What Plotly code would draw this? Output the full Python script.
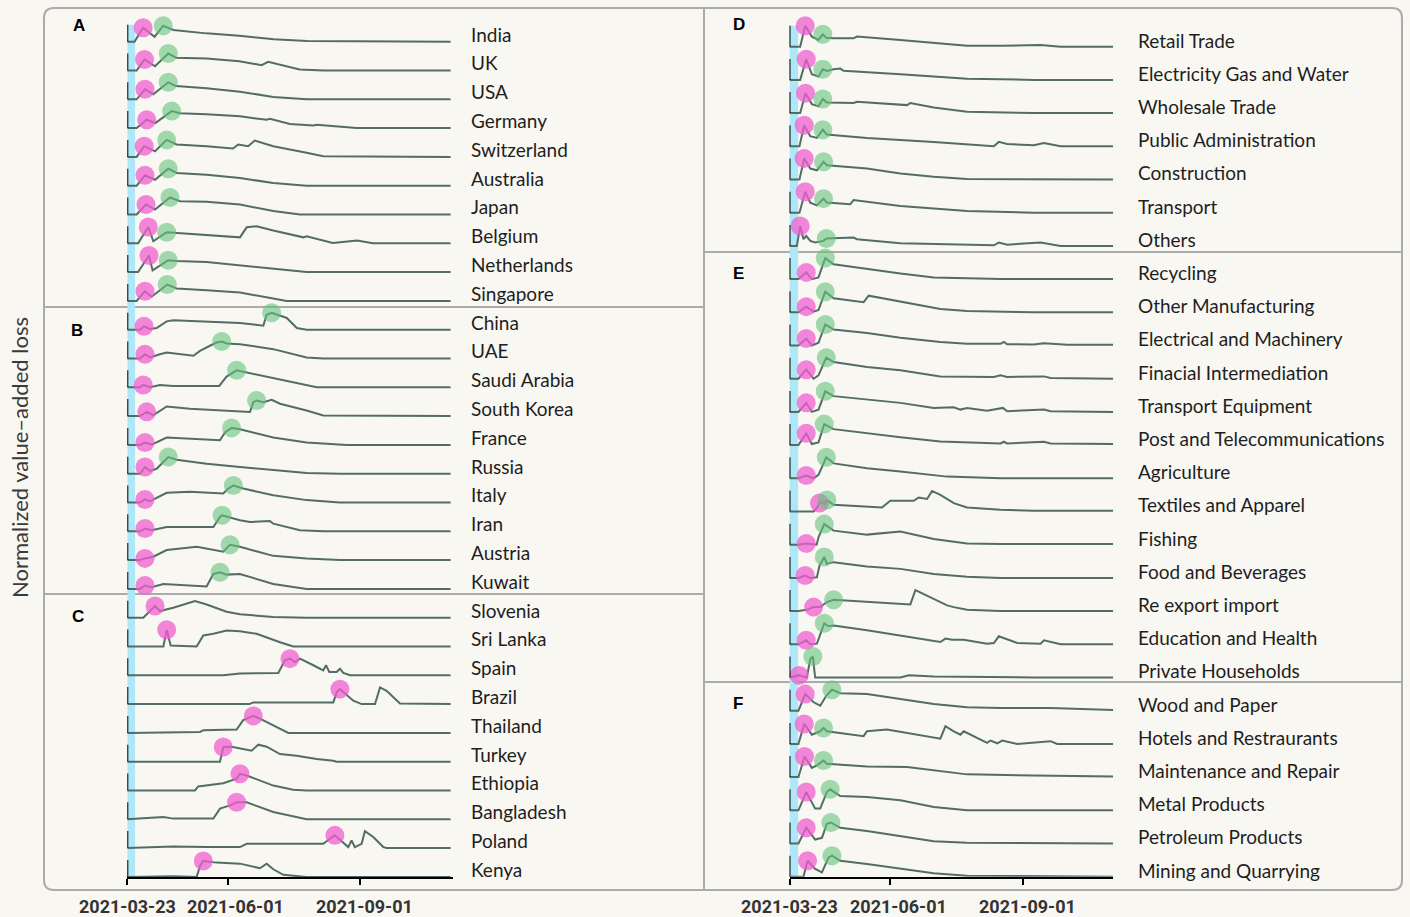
import pandas as pd
import plotly.graph_objects as go

START = "2021-03-23"
TICK_DATES = ["2021-03-23", "2021-06-01", "2021-09-01"]
TICK_SHIFT = [0, 8, 4]
PANEL_LETTERS = ["A", "B", "C", "D", "E", "F"]
Y_TITLE = "Normalized value–added loss"

# ---------------- Left panel: countries (days since 2021-03-23, normalized loss) ----------------
COUNTRIES = ["India", "UK", "USA", "Germany", "Switzerland", "Australia", "Japan", "Belgium",
             "Netherlands", "Singapore",
             "China", "UAE", "Saudi Arabia", "South Korea", "France", "Russia", "Italy", "Iran",
             "Austria", "Kuwait",
             "Slovenia", "Sri Lanka", "Spain", "Brazil", "Thailand", "Turkey", "Ethiopia",
             "Bangladesh", "Poland", "Kenya"]

COUNTRY_DAYS = [
    [0, 5, 11, 19, 25, 32, 55, 78, 102, 125, 225],
    [0, 6.5, 12, 19.3, 28.5, 34, 55, 78, 93.5, 98, 120, 137, 225],
    [0, 6.5, 12.3, 18.1, 28.5, 34, 55.2, 78.4, 101.6, 124.8, 225],
    [0, 6.5, 13.5, 19.5, 30.9, 36.7, 55.2, 78.4, 97, 99.3, 113.2, 129.5, 131.8, 159.6, 225],
    [0, 6.5, 11.8, 19.3, 27.4, 34.3, 55.2, 73.6, 77.2, 84.1, 88.7, 101.6, 124.8, 136.4, 225],
    [0, 6.5, 12.3, 19.3, 28.5, 34.3, 55.2, 78.4, 101.6, 124.8, 225],
    [0, 6.5, 13, 19.3, 29.7, 36.7, 55.2, 78.4, 101.6, 120.2, 225],
    [0, 7.5, 14.6, 18.1, 27.4, 55.2, 78.4, 83.1, 90, 101.6, 122.5, 124.8, 143, 160, 171, 225],
    [0, 7.5, 15.1, 17.6, 28.5, 34.3, 55.2, 78.4, 101.6, 124.8, 225],
    [0, 6.5, 12.3, 16.9, 27.8, 34.3, 55.2, 78.4, 101.6, 110.9, 225],
    [0, 8.8, 11.6, 15.8, 20.4, 27.4, 32, 55.2, 78.4, 94.7, 97, 100.5, 106.3, 111, 118, 124.8, 225],
    [0, 8.8, 12.3, 15.8, 22.7, 27.4, 46, 50.6, 57.5, 62.2, 65.7, 69.1, 78.4, 101.6, 124.8, 136.4, 225],
    [0, 8.8, 11.1, 15.8, 22.7, 32, 64, 69.1, 76.1, 80.7, 101.6, 124.8, 131.8, 225],
    [0, 8.8, 13.5, 18, 27.4, 43.6, 85.4, 87.7, 90, 94.7, 100.5, 106.3, 124.8, 136.4, 225],
    [0, 8.8, 12.3, 16.9, 27.4, 64.5, 68, 72.6, 78.4, 101.6, 124.8, 148, 152.7, 225],
    [0, 8.8, 12.3, 15.8, 20.4, 26.2, 28.5, 34.3, 55.2, 78.4, 101.6, 124.8, 148, 225],
    [0, 8.8, 12.3, 15.8, 27.4, 43.6, 66.8, 70.3, 73.8, 80.7, 101.6, 124.8, 148, 225],
    [0, 8.8, 12.3, 16.9, 27.4, 59.9, 64.5, 66, 78.4, 85.4, 99.3, 101.6, 120.2, 136.4, 225],
    [0, 8.8, 12.3, 18.1, 27.4, 48.3, 66.8, 71.5, 78.4, 101.6, 124.8, 148, 225],
    [0, 8.8, 12.3, 16.9, 25.1, 55.2, 59.9, 64.5, 69.1, 78.4, 101.6, 124.8, 225],
    [0, 11.1, 19.3, 22.7, 32, 41.3, 47.1, 55.2, 69.1, 78.4, 101.6, 124.8, 225],
    [0, 25.1, 27.4, 30.2, 48.3, 52.9, 59.9, 69.1, 78.4, 90, 106.3, 115.5, 225],
    [0, 66.8, 78.4, 105.1, 109.7, 113.2, 116.7, 120.2, 129.5, 136.4, 138.3, 140.6, 145.7, 148, 150.3, 155, 225],
    [0, 85, 87.7, 101.6, 143.4, 145.7, 148, 157.3, 163.1, 172.4, 175.9, 180.5, 189.8, 225],
    [0, 50.6, 53, 76.1, 80.7, 87.7, 92.3, 101.6, 112.1, 225],
    [0, 64.5, 66.8, 72.6, 86.5, 91.2, 97, 106.3, 117.9, 131.8, 143.4, 145.7, 225],
    [0, 47.1, 49.4, 66.8, 76.1, 78.4, 83.1, 101.6, 115.5, 124.8, 225],
    [0, 25.1, 32, 59.9, 64.5, 71.5, 76.1, 83.1, 101.6, 124.8, 225],
    [0, 32, 55.2, 78.4, 83.1, 136.4, 141, 144.5, 148, 153.8, 156.1, 158.4, 163.1, 165.4, 171.2, 178.2, 180.5, 225],
    [0, 32, 48.3, 50.6, 52.9, 62.2, 78.4, 92.3, 97, 101.6, 108.6, 120.2, 124.8, 225],
]
COUNTRY_VALS = [
    [0, 0, 0.82, 0.29, 0.94, 0.69, 0.49, 0.35, 0.14, 0.04, 0],
    [0, 0, 0.65, 0.25, 1.0, 0.75, 0.71, 0.55, 0.31, 0.51, 0.06, 0, 0],
    [0, 0, 0.59, 0.29, 1.0, 0.78, 0.65, 0.45, 0.14, 0, 0],
    [0, 0, 0.49, 0.29, 1.0, 0.88, 0.82, 0.69, 0.49, 0.55, 0.24, 0.16, 0.2, 0, 0],
    [0, 0, 0.63, 0.33, 1.0, 0.73, 0.63, 0.49, 0.73, 0.63, 0.96, 0.63, 0.24, 0.04, 0],
    [0, 0, 0.61, 0.35, 1.0, 0.75, 0.65, 0.45, 0.16, 0, 0],
    [0, 0, 0.59, 0.29, 1.0, 0.78, 0.75, 0.59, 0.2, 0, 0],
    [0, 0, 0.96, 0.12, 0.65, 0.49, 0.35, 0.94, 1.0, 0.75, 0.35, 0.41, 0.02, 0.16, 0, 0],
    [0, 0, 0.98, 0.1, 0.7, 0.66, 0.59, 0.39, 0.2, 0, 0],
    [0, 0, 0.57, 0.24, 0.96, 0.73, 0.63, 0.49, 0.14, 0, 0],
    [0, 0, 0.2, 0.04, 0.1, 0.49, 0.55, 0.49, 0.39, 0.24, 0.88, 1.0, 0.82, 0.69, 0.1, 0, 0],
    [0, 0, 0.25, 0.06, 0.25, 0.35, 0.16, 0.45, 0.75, 0.94, 1.0, 0.88, 0.84, 0.55, 0.06, 0, 0],
    [0, 0, 0.14, 0, 0.14, 0.08, 0.08, 0.63, 1.0, 0.92, 0.53, 0.14, 0, 0],
    [0, 0, 0.25, 0.05, 0.57, 0.43, 0.24, 0.82, 0.92, 0.82, 0.96, 0.73, 0.33, 0.04, 0],
    [0, 0, 0.14, 0.02, 0.43, 0.27, 0.73, 1.0, 0.92, 0.43, 0.14, 0.04, 0, 0],
    [0, 0, 0.39, 0.16, 0.29, 0.82, 0.98, 0.82, 0.59, 0.39, 0.2, 0.04, 0, 0],
    [0, 0, 0.18, 0.08, 0.57, 0.63, 0.53, 0.82, 1.0, 0.82, 0.43, 0.14, 0, 0],
    [0, 0, 0.16, 0.06, 0.25, 0.25, 0.84, 0.94, 0.65, 0.55, 0.61, 0.45, 0.06, 0, 0],
    [0, 0, 0.1, 0.2, 0.59, 0.78, 0.49, 0.9, 0.78, 0.25, 0.1, 0, 0],
    [0, 0, 0.2, 0.1, 0.29, 0.14, 0.88, 0.98, 0.84, 0.88, 0.29, 0, 0],
    [0, 0, 0.69, 0.39, 0.59, 0.82, 0.98, 0.78, 0.35, 0.2, 0.04, 0, 0],
    [0, 0, 0.98, 0.06, 0, 0.65, 0.75, 0.94, 0.9, 0.75, 0.25, 0, 0],
    [0, 0, 0.1, 0.14, 0.88, 0.98, 0.78, 0.98, 0.59, 0.29, 0.59, 0.2, 0.2, 0.39, 0.14, 0, 0],
    [0, 0, 0.1, 0.1, 0.1, 0.69, 0.88, 0.2, 0, 0, 0.98, 0.78, 0.04, 0],
    [0, 0.06, 0.16, 0.2, 0.75, 1.0, 0.84, 0.45, 0, 0],
    [0, 0, 0.86, 0.88, 0.65, 1.0, 0.88, 0.45, 0.35, 0.16, 0.06, 0, 0],
    [0, 0, 0.24, 0.43, 0.69, 0.98, 0.88, 0.29, 0.04, 0, 0],
    [0, 0.14, 0.04, 0.04, 0.63, 0.82, 1.0, 1.0, 0.43, 0, 0],
    [0, 0.1, 0.06, 0.06, 0.25, 0.25, 0.55, 0.75, 0.49, 0.06, 0.45, 0.06, 0.25, 1.0, 0.65, 0.06, 0, 0],
    [0, 0.04, 0, 0.65, 0.94, 0.84, 0.78, 0.51, 0.78, 0.45, 0.12, 0.06, 0, 0],
]
COUNTRY_PINK_DAY = [11, 12, 12.3, 13.5, 11.8, 12.3, 13, 14.6, 15.1, 12.3,
                    11.6, 12.3, 11.1, 13.5, 12.3, 12.3, 12.3, 12.3, 12.3, 12.3,
                    19.3, 27.4, 113.2, 148, 87.7, 66.8, 78.4, 76.1, 144.5, 52.9]
COUNTRY_PINK_VAL = [0.82, 0.65, 0.59, 0.49, 0.63, 0.61, 0.59, 0.96, 0.98, 0.57,
                    0.2, 0.25, 0.14, 0.25, 0.14, 0.39, 0.18, 0.16, 0.1, 0.2,
                    0.69, 0.98, 0.98, 0.88, 1.0, 0.86, 0.98, 1.0, 0.75, 0.94]
COUNTRY_GREEN_DAY = [25, 28.5, 28.5, 30.9, 27.4, 28.5, 29.7, 27.4, 28.5, 27.8,
                     100.5, 65.7, 76.1, 90, 72.6, 28.5, 73.8, 66, 71.5, 64.5,
                     None, None, None, None, None, None, None, None, None, None]
COUNTRY_GREEN_VAL = [0.94, 1.0, 1.0, 1.0, 1.0, 1.0, 1.0, 0.65, 0.7, 0.96,
                     1.0, 1.0, 1.0, 0.92, 1.0, 0.98, 1.0, 0.94, 0.9, 0.98,
                     None, None, None, None, None, None, None, None, None, None]

# ---------------- Right panel: sectors ----------------
SECTORS = ["Retail Trade", "Electricity Gas and Water", "Wholesale Trade", "Public Administration",
           "Construction", "Transport", "Others",
           "Recycling", "Other Manufacturing", "Electrical and Machinery", "Finacial Intermediation",
           "Transport Equipment", "Post and Telecommunications", "Agriculture", "Textiles and Apparel",
           "Fishing", "Food and Beverages", "Re export import", "Education and Health",
           "Private Households",
           "Wood and Paper", "Hotels and Restraurants", "Maintenance and Repair", "Metal Products",
           "Petroleum Products", "Mining and Quarrying"]

SECTOR_DAYS = [
    [0, 7.4, 10.9, 15.5, 20.1, 23.1, 25.5, 30.6, 44.4, 46.8, 76.9, 123.1, 146.3, 174.1, 188, 224.3],
    [0, 7.4, 11.6, 15.5, 20.1, 23.1, 25.9, 30.6, 35.2, 37.5, 76.9, 123.1, 169.4, 224.3],
    [0, 7.4, 11.1, 15.5, 20.1, 23.1, 25.9, 44.4, 46.8, 81.5, 83.8, 100, 123.1, 146.3, 169.4, 224.3],
    [0, 6.9, 10.2, 14.4, 19, 23.1, 25.9, 53.7, 100, 141.7, 145.1, 150.9, 169.4, 176.4, 188, 224.3],
    [0, 6.9, 10.2, 14.4, 19, 23.6, 25.9, 53.7, 76.9, 100, 123.1, 224.3],
    [0, 6.9, 10.9, 14.4, 19, 23.6, 25.9, 42.1, 44.4, 76.9, 123.1, 169.4, 224.3],
    [0, 5.1, 7.4, 9.7, 11.6, 14.4, 17.8, 23.6, 25.5, 44.4, 46.8, 76.9, 141.7, 145.1, 150.9, 174.1, 188, 224.3],
    [0, 6.2, 11.6, 15.5, 20.1, 24.8, 30.6, 53.7, 76.9, 100, 123.1, 146.3, 224.3],
    [0, 6.2, 11.6, 16.7, 20.1, 24.8, 30.6, 51.4, 54.9, 76.9, 104.6, 123.1, 146.3, 169.4, 224.3],
    [0, 6.2, 11.6, 15.5, 20.1, 24.8, 30.6, 53.7, 76.9, 104.6, 123.1, 146.3, 148.6, 150.9, 169.4, 176.4, 192.6, 224.3],
    [0, 6.2, 11.6, 16.7, 20.1, 25.5, 30.6, 53.7, 76.9, 104.6, 141.7, 146.3, 150.9, 176.4, 181, 224.3],
    [0, 6.2, 11.6, 15.5, 20.1, 24.8, 30.6, 53.7, 76.9, 100, 113.9, 118.5, 123.1, 137, 148, 150.9, 176.4, 181, 224.3],
    [0, 6.2, 11.6, 15.5, 20.1, 24.1, 30.6, 53.7, 76.9, 104.6, 123.1, 146.3, 148.6, 150.9, 176.4, 181, 224.3],
    [0, 6.2, 11.6, 16.7, 20.1, 25.5, 30.6, 53.7, 76.9, 109.3, 146.3, 224.3],
    [0, 16.7, 19, 20.8, 22.5, 24.1, 25.9, 30.6, 64.1, 69.9, 86.1, 89.6, 95.4, 98.8, 104.6, 113.9, 123.1, 146.3, 169.4, 224.3],
    [0, 6.2, 11.6, 18.8, 20.1, 24.1, 30.6, 53.7, 76.9, 100, 123.1, 146.3, 224.3],
    [0, 6.2, 10.9, 14.4, 19, 20.8, 24.1, 25.9, 30.6, 53.7, 76.9, 100, 123.1, 146.3, 224.3],
    [0, 6.2, 12, 16.7, 21.3, 25.9, 30.6, 53.7, 83.8, 87.3, 97.7, 100, 109.3, 113.9, 123.1, 146.3, 224.3],
    [0, 6.2, 11.6, 14.4, 19, 21.3, 24.1, 27.1, 30.6, 53.7, 76.9, 104.6, 108.1, 112.7, 120.8, 137, 141.7, 145.1, 157.9, 174.1, 176.4, 188, 224.3],
    [0, 2.8, 6.7, 12, 14.4, 16.2, 17.8, 76.9, 82.6, 100, 169.4, 224.3],
    [0, 6.2, 10.9, 16.7, 21.3, 25.5, 29.4, 35.2, 53.7, 76.9, 100, 123.1, 146.3, 181, 224.3],
    [0, 6.2, 10.2, 15.5, 21.3, 23.6, 25.9, 51.4, 53.7, 67.6, 104.6, 108.1, 113.9, 118.5, 120.8, 130.1, 137, 139.4, 144, 147.5, 157.9, 181, 185.6, 224.3],
    [0, 6.2, 10.4, 15.5, 19, 23.6, 25.9, 53.7, 81.5, 100, 123.1, 169.4, 224.3],
    [0, 6.2, 11.6, 17.8, 21.3, 25.9, 28.2, 35.2, 53.7, 76.9, 100, 123.1, 224.3],
    [0, 6.2, 11.6, 17.8, 22.5, 25.9, 28.7, 35.2, 53.7, 76.9, 100, 123.1, 224.3],
    [0, 9.7, 12.5, 17.8, 22.5, 27.1, 29.4, 35.2, 53.7, 76.9, 100, 123.1, 224.3],
]
SECTOR_VALS = [
    [0, 0, 1.0, 0.48, 0.32, 0.59, 0.43, 0.4, 0.4, 0.48, 0.32, 0.05, 0.05, 0.08, 0, 0],
    [0, 0, 0.98, 0.27, 0.16, 0.51, 0.43, 0.51, 0.54, 0.43, 0.27, 0.06, 0, 0],
    [0, 0, 0.95, 0.43, 0.32, 0.67, 0.51, 0.48, 0.54, 0.38, 0.48, 0.27, 0.06, 0.03, 0, 0],
    [0, 0, 1.0, 0.48, 0.4, 0.79, 0.56, 0.4, 0.21, 0, 0.21, 0.11, 0.05, 0.16, 0, 0],
    [0, 0, 1.0, 0.52, 0.44, 0.84, 0.68, 0.52, 0.29, 0.13, 0.02, 0],
    [0, 0, 1.0, 0.48, 0.35, 0.67, 0.48, 0.4, 0.6, 0.32, 0.08, 0, 0],
    [0, 0, 0.95, 0.32, 0.48, 0.24, 0.16, 0.24, 0.35, 0.4, 0.32, 0.13, 0.03, 0.16, 0.06, 0.16, 0, 0],
    [0, 0, 0.32, 0, 0.08, 1.0, 0.71, 0.48, 0.27, 0.08, 0.03, 0, 0],
    [0, 0, 0.27, 0.03, 0.11, 0.98, 0.67, 0.48, 0.79, 0.51, 0.16, 0.06, 0.03, 0, 0],
    [0, 0, 0.33, 0, 0.13, 1.0, 0.76, 0.6, 0.37, 0.17, 0.08, 0.08, 0.17, 0.06, 0.05, 0.11, 0.03, 0.03],
    [0, 0, 0.43, 0, 0.16, 1.0, 0.79, 0.56, 0.4, 0.11, 0.08, 0.16, 0.08, 0.11, 0.03, 0],
    [0, 0, 0.43, 0, 0.11, 0.98, 0.75, 0.59, 0.43, 0.19, 0.22, 0.11, 0.19, 0.06, 0.19, 0.03, 0.11, 0.03, 0],
    [0, 0, 0.56, 0.05, 0.13, 1.0, 0.76, 0.56, 0.37, 0.17, 0.13, 0.08, 0.16, 0.08, 0.16, 0.08, 0.05],
    [0, 0, 0.13, 0, 0.16, 1.0, 0.71, 0.48, 0.32, 0.08, 0, 0],
    [0, 0, 0.16, 0.4, 0.48, 0.35, 0.55, 0.32, 0.19, 0.51, 0.51, 0.67, 0.6, 0.98, 0.79, 0.4, 0.19, 0.08, 0.03, 0.03],
    [0, 0, 0.06, 0, 0.35, 0.98, 0.67, 0.48, 0.63, 0.27, 0.06, 0.03, 0.03],
    [0, 0, 0.11, 0, 0.03, 0.59, 1.0, 0.67, 0.75, 0.54, 0.43, 0.19, 0.06, 0, 0],
    [0, 0, 0.06, 0.19, 0.19, 0.43, 0.54, 0.43, 0.32, 1.0, 0.67, 0.59, 0.27, 0.19, 0.06, 0, 0],
    [0, 0, 0.19, 0, 0.03, 0.51, 1.0, 0.86, 0.9, 0.67, 0.43, 0.11, 0.27, 0.22, 0.22, 0.03, 0.06, 0.38, 0.06, 0.03, 0.19, 0, 0],
    [0, 0.05, 0.1, 0, 0.87, 1.0, 0, 0, 0.11, 0.05, 0, 0],
    [0, 0, 0.79, 0.4, 0.24, 0.71, 1.0, 0.83, 0.79, 0.56, 0.32, 0.16, 0.13, 0.13, 0.03],
    [0, 0, 0.95, 0.44, 0.6, 0.76, 0.6, 0.37, 0.6, 0.68, 0.25, 0.84, 0.6, 0.44, 0.6, 0.29, 0.05, 0.16, 0.03, 0.16, 0, 0.13, 0, 0],
    [0, 0, 0.98, 0.44, 0.56, 0.79, 0.63, 0.51, 0.48, 0.32, 0.13, 0.08, 0.03],
    [0, 0, 0.87, 0.08, 0.08, 0.87, 1.0, 0.68, 0.63, 0.48, 0.16, 0, 0],
    [0, 0, 0.75, 0.19, 0.27, 0.94, 1.0, 0.75, 0.59, 0.35, 0.11, 0.03, 0],
    [0, 0, 0.76, 0.37, 0.21, 0.92, 1.0, 0.76, 0.6, 0.37, 0.16, 0.05, 0],
]
SECTOR_PINK_DAY = [10.9, 11.6, 11.1, 10.2, 10.2, 10.9, 7.4,
                   11.6, 11.6, 11.6, 11.6, 11.6, 11.6, 11.6, 20.8, 11.6, 10.9, 16.7, 11.6, 6.7,
                   10.9, 10.2, 10.4, 11.6, 11.6, 12.5]
SECTOR_PINK_VAL = [1.0, 0.98, 0.95, 1.0, 1.0, 1.0, 0.95,
                   0.32, 0.27, 0.33, 0.43, 0.43, 0.56, 0.13, 0.4, 0.06, 0.11, 0.19, 0.19, 0.1,
                   0.79, 0.95, 0.98, 0.87, 0.75, 0.76]
SECTOR_GREEN_DAY = [23.1, 23.1, 23.1, 23.1, 23.6, 23.6, 25.5,
                    24.8, 24.8, 24.8, 25.5, 24.8, 24.1, 25.5, 25.9, 24.1, 24.1, 30.6, 24.1, 16.2,
                    29.4, 23.6, 23.6, 28.2, 28.7, 29.4]
SECTOR_GREEN_VAL = [0.59, 0.51, 0.67, 0.79, 0.84, 0.67, 0.35,
                    1.0, 0.98, 1.0, 1.0, 0.98, 1.0, 1.0, 0.55, 0.98, 1.0, 0.54, 1.0, 1.0,
                    1.0, 0.76, 0.79, 1.0, 1.0, 1.0]

# ---------------- styling ----------------
W, H = 1410, 917
BG = "#f9f7f2"
LINE = "#526d65"
PINK = "rgba(240,95,208,0.75)"
GREEN = "rgba(100,195,125,0.6)"
BAND = "#aee7f7"
BORDER = "#ababab"
LABEL_FONT = "Lato"

t0 = pd.Timestamp(START)


def to_date(d):
    return (t0 + pd.Timedelta(days=d)).strftime("%Y-%m-%d %H:%M:%S")


def px_x(p):
    return p / W


def px_y(p):
    return 1 - p / H


PANELS = [
    dict(names=COUNTRIES, days=COUNTRY_DAYS, vals=COUNTRY_VALS,
         pd_=COUNTRY_PINK_DAY, pv=COUNTRY_PINK_VAL, gd=COUNTRY_GREEN_DAY, gv=COUNTRY_GREEN_VAL,
         xa="x", ya="y", step=28.8, bottom=876.9, amp=17.0, xd=(127.3, 453.0), end=226.7,
         lx=469, ldy=7.7, band=5.4),
    dict(names=SECTORS, days=SECTOR_DAYS, vals=SECTOR_VALS,
         pd_=SECTOR_PINK_DAY, pv=SECTOR_PINK_VAL, gd=SECTOR_GREEN_DAY, gv=SECTOR_GREEN_VAL,
         xa="x2", ya="y2", step=33.2, bottom=876.7, amp=21.0, xd=(789.5, 1113.0), end=224.3,
         lx=1136, ldy=6.7, band=6.0),
]

fig = go.Figure()
shapes = []
annotations = []
marker_traces = []

for k, P in enumerate(PANELS):
    n = len(P["names"])
    amp = P["amp"] / P["step"]
    xref, yref = P["xa"], P["ya"]
    # light blue band
    shapes.append(dict(type="rect", xref=xref, yref=yref, x0=to_date(0), x1=to_date(P["band"]),
                       y0=0, y1=(n - 1) + amp, fillcolor=BAND, line=dict(width=0), layer="below"))
    px_, py_, gx_, gy_ = [], [], [], []
    for i in range(n):
        base = n - 1 - i
        fig.add_trace(go.Scatter(
            x=[to_date(d) for d in P["days"][i]],
            y=[base + v * amp for v in P["vals"][i]],
            mode="lines", line=dict(color=LINE, width=2),
            xaxis=xref, yaxis=yref, showlegend=False, hoverinfo="skip"))
        shapes.append(dict(type="line", xref=xref, yref=yref, x0=to_date(0), x1=to_date(0),
                           y0=base, y1=base + amp, line=dict(color="black", width=2)))
        annotations.append(dict(text=P["names"][i], xref="paper", yref=yref,
                                x=px_x(P["lx"]), y=base + P["ldy"] / P["step"],
                                xanchor="left", yanchor="middle", showarrow=False,
                                font=dict(family=LABEL_FONT, size=19, color="#1e1e1e")))
        px_.append(to_date(P["pd_"][i]))
        py_.append(base + P["pv"][i] * amp)
        if P["gd"][i] is not None:
            gx_.append(to_date(P["gd"][i]))
            gy_.append(base + P["gv"][i] * amp)
    marker_traces.append(go.Scatter(x=px_, y=py_, mode="markers", xaxis=xref, yaxis=yref,
                                    marker=dict(color=PINK, size=19, line=dict(width=0)),
                                    cliponaxis=False, showlegend=False, hoverinfo="skip"))
    marker_traces.append(go.Scatter(x=gx_, y=gy_, mode="markers", xaxis=xref, yaxis=yref,
                                    marker=dict(color=GREEN, size=19, line=dict(width=0)),
                                    cliponaxis=False, showlegend=False, hoverinfo="skip"))
    # tick labels
    for td, sh in zip(TICK_DATES, TICK_SHIFT):
        annotations.append(dict(text=td, xref=xref, yref="paper", x=td, y=px_y(906),
                                xanchor="center", yanchor="middle", xshift=sh, showarrow=False,
                                font=dict(family="Roboto", size=18, color="#333333", weight="bold")))

for tr in marker_traces:
    fig.add_trace(tr)

# panel frame
x0, x1, y0, y1, r = 44, 1402, 8, 890, 10
path = (f"M {px_x(x0 + r)},{px_y(y0)} L {px_x(x1 - r)},{px_y(y0)} "
        f"Q {px_x(x1)},{px_y(y0)} {px_x(x1)},{px_y(y0 + r)} "
        f"L {px_x(x1)},{px_y(y1 - r)} Q {px_x(x1)},{px_y(y1)} {px_x(x1 - r)},{px_y(y1)} "
        f"L {px_x(x0 + r)},{px_y(y1)} Q {px_x(x0)},{px_y(y1)} {px_x(x0)},{px_y(y1 - r)} "
        f"L {px_x(x0)},{px_y(y0 + r)} Q {px_x(x0)},{px_y(y0)} {px_x(x0 + r)},{px_y(y0)} Z")
shapes.append(dict(type="path", xref="paper", yref="paper", path=path,
                   line=dict(color=BORDER, width=2), layer="below"))
for (ax0, ay0, ax1, ay1) in [(704, 8, 704, 890), (44, 307, 704, 307), (44, 594, 704, 594),
                             (704, 252, 1402, 252), (704, 682, 1402, 682)]:
    shapes.append(dict(type="line", xref="paper", yref="paper", x0=px_x(ax0), y0=px_y(ay0),
                       x1=px_x(ax1), y1=px_y(ay1), line=dict(color=BORDER, width=2), layer="below"))

for letter, (lx, ly) in zip(PANEL_LETTERS, [(79, 26), (77, 330), (78, 616), (739, 25), (738, 274), (738, 703)]):
    annotations.append(dict(text=f"<b>{letter}</b>", xref="paper", yref="paper", x=px_x(lx), y=px_y(ly),
                            xanchor="center", yanchor="middle", showarrow=False,
                            font=dict(family="Liberation Sans", size=17, color="black")))

annotations.append(dict(text=Y_TITLE, xref="paper", yref="paper", x=px_x(19), y=px_y(458),
                        textangle=-90, xanchor="center", yanchor="middle", showarrow=False,
                        font=dict(family=LABEL_FONT, size=22, color="#3a3a3a")))

axis_common = dict(type="date", showgrid=False, zeroline=False, showline=True, linecolor="black",
                   linewidth=2, ticks="outside", ticklen=6, tickwidth=2, tickcolor="black",
                   tickvals=TICK_DATES, showticklabels=False, fixedrange=True)
L, R = PANELS
fig.update_layout(
    width=W, height=H, margin=dict(l=0, r=0, t=0, b=0),
    paper_bgcolor=BG, plot_bgcolor="rgba(0,0,0,0)",
    xaxis=dict(axis_common, domain=[px_x(L["xd"][0]), px_x(L["xd"][1])],
               range=[to_date(0), to_date(L["end"])], anchor="y"),
    xaxis2=dict(axis_common, domain=[px_x(R["xd"][0]), px_x(R["xd"][1])],
                range=[to_date(0), to_date(R["end"])], anchor="y2"),
    yaxis=dict(domain=[px_y(L["bottom"]), 1], range=[0, L["bottom"] / L["step"]], visible=False,
               anchor="x", fixedrange=True),
    yaxis2=dict(domain=[px_y(R["bottom"]), 1], range=[0, R["bottom"] / R["step"]], visible=False,
                anchor="x2", fixedrange=True),
    shapes=shapes, annotations=annotations, showlegend=False,
)

fig.write_html("out.html", config={"displayModeBar": False},
               post_script="document.body.style.margin='0';document.body.style.padding='0';"
                           "document.body.style.background='" + BG + "';")
